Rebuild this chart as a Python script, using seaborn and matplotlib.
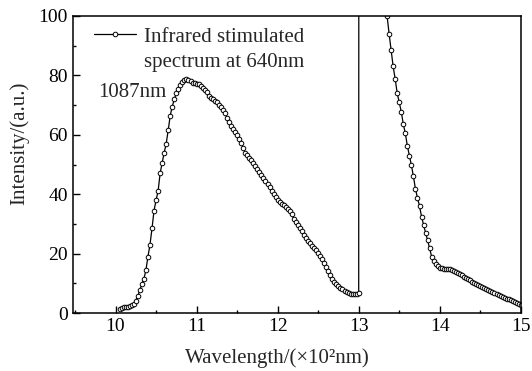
import numpy as np
import pandas as pd
import matplotlib
matplotlib.use("Agg")
import matplotlib.pyplot as plt
import seaborn as sns
from matplotlib.ticker import MultipleLocator

# wavelength in units of 100 nm
rise_x = np.round(np.arange(10.05, 13.0001, 0.025), 3)
rise_y = [1.5, 1.8, 2.0, 2.1, 2.2, 2.4, 2.6, 3.2, 4.2, 5.8,
          7.7, 9.8, 11.5, 14.5, 19.0, 23.0, 28.5, 34.5, 38.0, 41.0,
          47.0, 50.5, 54.0, 57.0, 61.6, 66.5, 69.5, 72.0, 74.0, 75.5,
          76.7, 77.8, 78.4, 78.7, 78.6, 78.2, 77.5, 77.3, 77.2, 77.0,
          76.5, 75.8, 75.0, 74.3, 73.2, 72.5, 72.0, 71.5, 71.0, 70.2,
          69.3, 68.3, 67.2, 65.8, 64.3, 63.0, 62.0, 61.0, 60.0, 58.7,
          57.3, 55.5, 54.0, 53.2, 52.3, 51.5, 50.5, 49.6, 48.5, 47.5,
          46.5, 45.5, 44.5, 43.4, 42.3, 41.2, 40.2, 39.1, 38.0, 37.3,
          36.8, 36.3, 35.8, 35.2, 34.5, 33.2, 31.8, 30.6, 29.6, 28.5,
          27.5, 26.4, 25.4, 24.4, 23.5, 22.7, 22.0, 21.2, 20.3, 19.2,
          18.1, 16.8, 15.5, 14.2, 12.8, 11.4, 10.4, 9.7, 9.1, 8.6,
          8.1, 7.6, 7.2, 6.9, 6.5, 6.3, 6.3, 6.4, 6.7]

# excitation line, off scale
peak_x = [13.025, 13.1, 13.2, 13.3, 13.325]
peak_y = [2000.0, 2000.0, 900.0, 180.0, 105.5]

tail_x = np.round(np.arange(13.35, 15.0001, 0.025), 3)
tail_y = [100.0, 94.0, 88.5, 83.0, 78.8, 74.0, 70.9, 67.8, 63.6, 60.5,
          56.3, 53.0, 49.8, 46.0, 41.8, 38.8, 36.0, 32.5, 29.7, 27.0,
          24.5, 21.8, 19.0, 17.6, 16.6, 15.8, 15.3, 15.1, 15.0, 15.0,
          15.0, 14.9, 14.6, 14.3, 13.9, 13.5, 13.1, 12.7, 12.3, 11.9,
          11.4, 11.0, 10.6, 10.2, 9.8, 9.3, 9.0, 8.7, 8.3, 8.0,
          7.7, 7.4, 7.0, 6.7, 6.4, 6.1, 5.8, 5.5, 5.2, 4.9,
          4.6, 4.3, 4.0, 3.7, 3.4, 3.1, 2.8]

legend_lines = ["Infrared stimulated", "spectrum at 640nm"]

df = pd.DataFrame({
    "wl": np.concatenate([rise_x, peak_x, tail_x]),
    "I": np.concatenate([rise_y, peak_y, tail_y]),
})

sns.set_theme(style="ticks")
plt.rcParams["font.family"] = ["Liberation Serif", "DejaVu Serif"]

fig = plt.figure(figsize=(5.32, 3.71), dpi=100)
ax = fig.add_axes([0.137, 0.156, 0.842, 0.801])

sns.lineplot(data=df, x="wl", y="I", ax=ax, color="black", lw=0.9,
             marker="o", markersize=3.3, markerfacecolor="white",
             markeredgecolor="black", markeredgewidth=0.7,
             label=legend_lines[0], sort=False)

ax.set_xlim(9.474, 15.0)
ax.set_ylim(0, 100)
ax.xaxis.set_major_locator(MultipleLocator(1))
ax.xaxis.set_minor_locator(MultipleLocator(0.5))
ax.yaxis.set_major_locator(MultipleLocator(20))
ax.yaxis.set_minor_locator(MultipleLocator(10))
ax.tick_params(which="both", direction="in", top=False, right=False,
               width=1.0, labelsize=14, colors="black")
ax.tick_params(which="major", length=5)
ax.tick_params(which="minor", length=2.5)
for s in ax.spines.values():
    s.set_linewidth(1.1)
    s.set_color("black")

ax.set_xlabel("Wavelength/(\u00d710\u00b2nm)", fontsize=15)
ax.set_ylabel("Intensity/(a.u.)", fontsize=15)
ax.xaxis.set_label_coords(0.456, -0.118)
ax.yaxis.set_label_coords(-0.097, 0.571)

ax.text(9.78, 72.7, "1087nm", fontsize=15, va="baseline", ha="left")

leg = ax.legend(loc="upper left", bbox_to_anchor=(0.02, 1.005), frameon=False,
                fontsize=15, handlelength=2.0, handletextpad=0.4,
                borderaxespad=0.2)

# second legend line placed under the first
fig.canvas.draw()
tb = leg.get_texts()[0].get_window_extent()
x0 = ax.transData.inverted().transform((tb.x0, tb.y0))[0]
ax.text(x0, 82.8, legend_lines[1], fontsize=15, va="baseline", ha="left")

fig.savefig("out.png", dpi=100)
